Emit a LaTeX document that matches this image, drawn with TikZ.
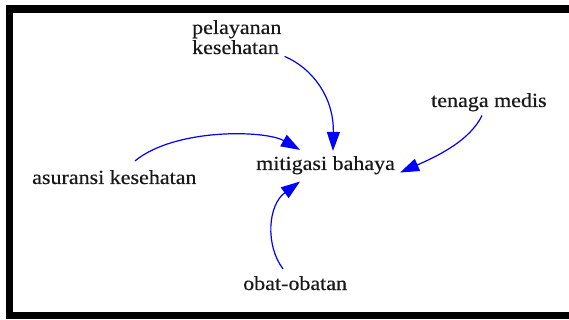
\documentclass[tikz,border=0pt]{standalone}
\usepackage{fontspec}
\setmainfont[FakeStretch=1.1,FakeBold=0.4]{Liberation Serif}
\usetikzlibrary{arrows.meta}
\tikzset{
  lbl/.style={inner sep=0pt, font=\fontsize{20}{20}\selectfont, text=black!90},
  link/.style={draw=blue, line width=1.2pt, -{Triangle[length=19pt,width=13pt]}},
}
\begin{document}
\begin{tikzpicture}[x=1pt,y=-1pt]
\useasboundingbox (0,0) rectangle (569,320);
\fill[white] (0,0) rectangle (569,320);
\draw[line width=7.5pt, black] (9.5,9) rectangle (585,315.5);

\node[lbl, anchor=base west] (mit) at (256,170) {mitigasi bahaya};
\node[lbl, anchor=base west] (asu) at (32,184) {asuransi kesehatan};
\node[lbl, anchor=base west, align=left] (pel) at (192,54) {pelayanan\\kesehatan};
\node[lbl, anchor=base west] (ten) at (431,107) {tenaga medis};
\node[lbl, anchor=base west] (obat) at (243,290) {obat-obatan};

\draw[link] ([shift={(3,2)}]pel.south east) .. controls (312,68) and (334,97) .. ([shift={(77,-5)}]mit.north west);
\draw[link] ([shift={(103,-9)}]asu.north west) .. controls (175,128) and (265,130) .. ([shift={(44,-6)}]mit.north west);
\draw[link] ([shift={(51,4)}]ten.south west) .. controls (470,140) and (440,155) .. ([shift={(5,-2)}]mit.south east);
\draw[link] ([shift={(40,-7)}]obat.north west) .. controls (265,245) and (268,205) .. ([shift={(44,7)}]mit.south west);
\end{tikzpicture}
\end{document}
